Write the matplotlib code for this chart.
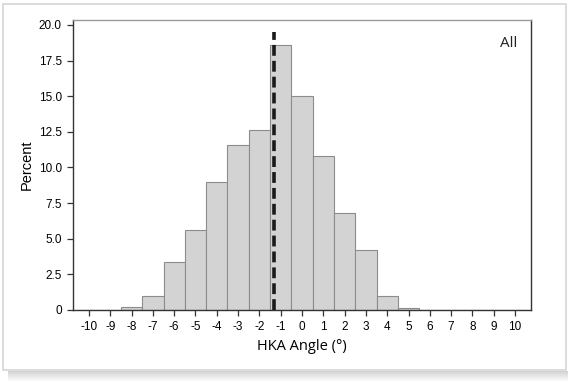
import numpy as np
from matplotlib import pyplot as plt
from matplotlib.patches import Rectangle

# histogram data (percent per 1-degree bin, bins centred on integers)
angles = list(range(-10, 11))
percent = [0, 0, 0.2, 1.0, 3.4, 5.6, 9.0, 11.6, 12.6, 18.6, 15.0,
           10.8, 6.8, 4.2, 1.0, 0.15, 0, 0, 0, 0, 0]
mean_angle = -1.3
mean_line_top = 19.5
yticks = [0, 2.5, 5, 7.5, 10, 12.5, 15, 17.5, 20]
ytick_labels = ["0", "2.5", "5.0", "7.5", "10.0", "12.5", "15.0", "17.5", "20.0"]

W, H = 574, 383
fig = plt.figure(figsize=(W / 100, H / 100), dpi=100)
fig.patch.set_facecolor("white")

# photo-like frame with a soft shadow at the bottom
for i in range(10):
    fig.patches.append(Rectangle((8 / W, (H - 372 - i) / H), 560 / W, 1 / H,
                                 transform=fig.transFigure,
                                 facecolor="#808080", alpha=0.35 * (1 - i / 10),
                                 edgecolor="none", zorder=-5))
fig.patches.append(Rectangle((3 / W, (H - 370) / H), 563 / W, 366 / H,
                             transform=fig.transFigure, facecolor="white",
                             edgecolor="#d6d6d6", lw=1.2, zorder=-4))

ax = fig.add_axes([73 / W, 1 - 310 / H, 458 / W, 290 / H])
ax.bar(angles, percent, width=1.0, color="#d3d3d3", edgecolor="#8c8c8c",
       linewidth=0.8, zorder=2)
ax.plot([mean_angle, mean_angle], [0, mean_line_top], color="#1a1a1a",
        linestyle=(0, (3.0, 1.4)), lw=2.6, zorder=3)

ax.set_xlim(-10.75, 10.75)
ax.set_ylim(0, 20.35)
ax.set_xticks(angles)
ax.set_xticklabels([str(a) for a in angles], fontsize=8.5, family="Liberation Sans")
ax.set_yticks(yticks)
ax.set_yticklabels(ytick_labels, fontsize=8.5, family="Liberation Sans")
ax.tick_params(direction="out", length=4, width=0.9, color="#333333", pad=4)
for s in ax.spines.values():
    s.set_color("#333333")
    s.set_linewidth(1.0)
ax.spines["top"].set_color("#999999")

ax.set_ylabel("Percent", fontsize=10.5, family="Liberation Sans")
ax.yaxis.set_label_coords(-39 / 458, 0.5)
ax.set_xlabel("HKA Angle (°)", fontsize=10.5, family="Open Sans", labelpad=4)
ax.text(0.97, 0.92, "All", transform=ax.transAxes, ha="right", va="center",
        fontsize=11, family="Open Sans", color="#222222")

fig.savefig("out.png", dpi=100)
